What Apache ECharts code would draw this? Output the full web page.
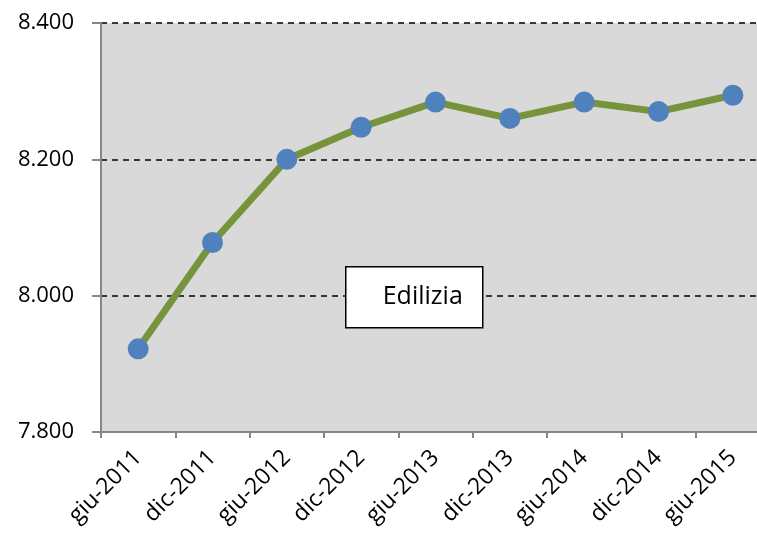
<!doctype html>
<html lang="it">
<head>
<meta charset="utf-8">
<title>Edilizia</title>
<script src="https://cdn.jsdelivr.net/npm/echarts@6/dist/echarts.min.js"></script>
<style>
  html, body { margin: 0; padding: 0; background: #fff; overflow: hidden; }
  #chart { width: 770px; height: 536px; }
</style>
</head>
<body>
<div id="chart"></div>
<script>
var periodi = ['giu-2011', 'dic-2011', 'giu-2012', 'dic-2012', 'giu-2013', 'dic-2013', 'giu-2014', 'dic-2014', 'giu-2015'];
var occupati = [7922, 8078, 8200, 8247, 8284, 8260, 8284, 8270, 8294];
var yTicks = [7800, 8000, 8200, 8400];
var titolo = 'Edilizia';

function formatIt(v) {
    return String(v).replace(/\B(?=(\d{3})+(?!\d))/g, '.');
}

// il grafico originale e' tagliato a destra: il div e' piu' largo della finestra
var chart = echarts.init(document.getElementById('chart'));
chart.setOption({
    animation: false,
    textStyle: { fontFamily: 'Open Sans' },
    grid: {
        left: 101, top: 23, right: 0, bottom: 104,
        show: true, backgroundColor: '#d9d9d9', borderWidth: 0
    },
    xAxis: {
        type: 'category',
        data: periodi,
        boundaryGap: true,
        axisLine: { lineStyle: { color: '#868686', width: 2 } },
        axisTick: { show: true, length: 6, lineStyle: { color: '#868686', width: 2 } },
        axisLabel: { rotate: 45, color: '#000', fontSize: 23, margin: 22 }
    },
    yAxis: {
        type: 'value',
        min: yTicks[0],
        max: yTicks[yTicks.length - 1],
        interval: 200,
        axisLine: { show: true, lineStyle: { color: '#868686', width: 2 } },
        axisTick: { show: true, length: 9, lineStyle: { color: '#868686', width: 2 } },
        axisLabel: { color: '#000', fontSize: 22, margin: 27, formatter: formatIt },
        splitLine: { show: true, lineStyle: { color: '#000', type: [6, 5], width: 1.5 } }
    },
    graphic: [{
        type: 'group',
        left: 345, top: 266,
        z: 100,
        children: [{
            type: 'rect',
            shape: { x: 0, y: 0, width: 137, height: 61 },
            style: { fill: '#fff', stroke: '#000', lineWidth: 1.5 },
            z: 100
        }, {
            type: 'text',
            x: 77, y: 30,
            z: 101,
            style: {
                text: titolo, fill: '#000', fontSize: 25, fontFamily: 'Open Sans',
                align: 'center', verticalAlign: 'middle'
            }
        }]
    }],
    series: [{
        type: 'line',
        data: occupati,
        symbol: 'circle',
        symbolSize: 21,
        lineStyle: { color: '#77933c', width: 7 },
        itemStyle: { color: '#4f81bd' },
        z: 3
    }]
});
</script>
</body>
</html>
